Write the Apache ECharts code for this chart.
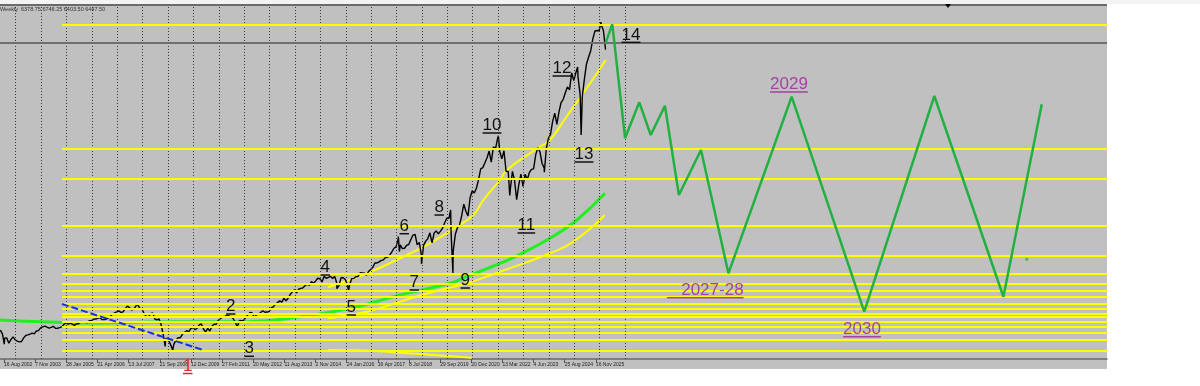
<!DOCTYPE html>
<html><head><meta charset="utf-8">
<script src="https://cdn.jsdelivr.net/npm/echarts@6.0.0/dist/echarts.min.js"></script>
<style>html,body{margin:0;padding:0;background:#fff}#c{width:1200px;height:386px}</style>
</head><body><div id="c"></div>
<script>
// ---------- DATA ----------
// Monthly closes (read from picture / weekly chart), first value = month listed in closeBlocks
const c2002 = [1067, 990, 912, 916, 815, 886, 936, 880];
const c2003 = [856, 841, 848, 917, 964, 975, 990, 1008, 996, 1051, 1058, 1112];
const c2004 = [1131, 1145, 1126, 1107, 1121, 1141, 1102, 1104, 1115, 1130, 1174, 1212];
const c2005 = [1181, 1204, 1181, 1157, 1192, 1191, 1234, 1220, 1229, 1207, 1249, 1248];
const c2006 = [1280, 1281, 1295, 1311, 1270, 1270, 1277, 1304, 1336, 1378, 1401, 1418];
const c2007 = [1438, 1407, 1421, 1482, 1531, 1503, 1455, 1474, 1527, 1549, 1481, 1468];
const c2008 = [1379, 1331, 1323, 1386, 1400, 1280, 1267, 1283, 1166, 969, 896, 903];
const c2009 = [826, 735, 798, 873, 919, 919, 987, 1021, 1057, 1036, 1096, 1115];
const c2010 = [1074, 1104, 1169, 1187, 1089, 1031, 1102, 1049, 1141, 1183, 1181, 1258];
const c2011 = [1286, 1327, 1326, 1364, 1345, 1321, 1292, 1219, 1131, 1253, 1247, 1258];
const c2012 = [1312, 1366, 1408, 1398, 1310, 1362, 1379, 1407, 1441, 1412, 1416, 1426];
const c2013 = [1498, 1515, 1569, 1598, 1631, 1606, 1686, 1633, 1682, 1757, 1806, 1848];
const c2014 = [1783, 1859, 1872, 1884, 1924, 1960, 1931, 2003, 1972, 2018, 2068, 2059];
const c2015 = [1995, 2105, 2068, 2086, 2107, 2063, 2104, 1972, 1920, 2079, 2080, 2044];
const c2016 = [1940, 1932, 2060, 2065, 2097, 2099, 2174, 2171, 2168, 2126, 2199, 2239];
const c2017 = [2279, 2364, 2363, 2384, 2412, 2423, 2470, 2472, 2519, 2575, 2648, 2674];
const c2018 = [2824, 2714, 2641, 2648, 2705, 2718, 2816, 2902, 2914, 2712, 2760, 2507];
const c2019 = [2704, 2784, 2834, 2946, 2752, 2942, 2980, 2926, 2977, 3038, 3141, 3231];
const c2020 = [3226, 2954, 2585, 2912, 3044, 3100, 3271, 3500, 3363, 3270, 3622, 3756];
const c2021 = [3714, 3811, 3973, 4181, 4204, 4298, 4395, 4523, 4308, 4605, 4567, 4766];
const c2022 = [4516, 4374, 4530, 4132, 4132, 3785, 4130, 3955, 3586, 3872, 4080, 3840];
const c2023 = [4077, 3970, 4109, 4169, 4180, 4450, 4589, 4508, 4288, 4194, 4568, 4770];
const c2024 = [4846, 5096, 5254, 5036, 5278, 5460, 5522, 5648, 5762, 5705, 6032, 5882];
const c2025 = [6041, 5955, 5612, 5569, 5912, 6205, 6339, 6460, 6688, 6840, 6849, 6845];
const c2026 = [6960, 6850, 6480];
const closeBlocks = [[2002,5,c2002],[2003,1,c2003],[2004,1,c2004],[2005,1,c2005],[2006,1,c2006],
  [2007,1,c2007],[2008,1,c2008],[2009,1,c2009],[2010,1,c2010],[2011,1,c2011],[2012,1,c2012],
  [2013,1,c2013],[2014,1,c2014],[2015,1,c2015],[2016,1,c2016],[2017,1,c2017],[2018,1,c2018],
  [2019,1,c2019],[2020,1,c2020],[2021,1,c2021],[2022,1,c2022],[2023,1,c2023],[2024,1,c2024],
  [2025,1,c2025],[2026,1,c2026]];
// weekly extremes (spikes) [decimal year, price]
const priceExtremes = [[2002.55,797],[2002.78,780],[2003.19,805],[2007.78,1576],[2008.89,752],
  [2009.18,667],[2010.5,1022],[2011.76,1099],[2015.65,1867],[2016.11,1829],[2018.07,2872],
  [2018.11,2581],[2018.72,2930],[2018.98,2346],[2020.13,3386],[2020.22,2170],[2022.01,4818],
  [2022.46,3667],[2022.78,3577],[2023.82,4117],[2025.13,6144],[2025.27,4835],[2026.05,7010]];
// moving averages / curves [decimal year, price]
const greenMA = [[2002.38,1263],[2004.35,1224],[2006.32,1205],[2008.29,1224],[2010.26,1230],[2012.23,1232],
  [2014.2,1326],[2016.17,1489],[2018.13,1745],[2020.1,1971],[2020.76,2098],[2022.07,2357],[2022.73,2498],
  [2024.04,2840],[2025.1,3193],[2026.21,3708]];
const yellowUpper = [[2015.3,1894],[2016.84,2164],[2018.13,2454],[2019.31,2743],[2020.37,3063],[2021.02,3289],
  [2021.42,3579],[2022.07,3965],[2022.34,4158],[2023.64,4607],[2024.04,4737],[2024.69,5186],[2025.35,5638],[2026.24,6281]];
const yellowLower = [[2015.3,1296],[2016.84,1423],[2018.13,1616],[2019.45,1809],[2020.76,1971],[2022.07,2195],
  [2024.04,2550],[2024.96,2774],[2026.21,3289]];
const yellowBottom = [[2015.3,684],[2016.99,670],[2018.13,632],[2019.45,587],[2020.96,535]];
const blueTrend = [[2004.82,1572],[2010.38,684]];
const projection = [[2026.237,6615],[2026.497,6970],[2027.0,4775],[2027.56,5464],[2028.01,4833],[2028.57,5399],
  [2029.12,3675],[2029.99,4544],[2031.07,2164],[2033.56,5572],[2036.42,1423],[2039.18,5586],[2041.9,1712],[2043.41,5426]];
const projectionDot = [[2042.82,2434]];
// horizontal levels
const levels = [6970, 4563, 3998, 3077, 2498, 2156, 1958, 1836, 1707, 1585, 1481, 1379, 1326, 1230, 1128, 1018, 877, 664];
const levelStart = 2004.82;
const currentPrice = 6622;
// yearly separators
const separatorYears = [2003,2004,2005,2006,2007,2008,2009,2010,2011,2012,2013,2014,2015,2016,2017,2018,2019,2020,2021,2022,2023,2024,2025,2026,2027];
// date axis labels
const dateLabelText = ['16 Aug 2002','7 Nov 2003','28 Jan 2005','21 Apr 2006','13 Jul 2007','21 Sep 2008','12 Dec 2009',
  '27 Feb 2011','20 May 2012','11 Aug 2013','2 Nov 2014','24 Jan 2016','16 Apr 2017','8 Jul 2018','29 Sep 2019',
  '20 Dec 2020','13 Mar 2022','4 Jun 2023','25 Aug 2024','16 Nov 2025'];
const dateLabelPos = [2002.539,2003.768,2004.993,2006.222,2007.447,2008.675,2009.900,2011.129,2012.354,2013.583,
  2014.808,2016.037,2017.262,2018.491,2019.716,2020.944,2022.169,2023.398,2024.623,2025.851];
// annotations: text, anchor (left end of underline) [year, price], colour group
const annText = ['1','2','3','4','5','6','7','8','9','10','11','12','13','14','2029','   2027-28','2030'];
const annPos = [[2009.589,230],[2011.283,1378],[2012.011,562],[2015.005,2131],[2016.029,1359],[2018.116,2928],
  [2018.51,1842],[2019.495,3289],[2020.519,1880],[2021.385,4872],[2022.764,2942],[2024.142,5972],[2025.009,4312],
  [2026.86,6622],[2032.708,5663],[2028.652,1693],[2035.583,940]];
const annGroup = ['red','wave','wave','wave','wave','wave','wave','wave','wave','wave','wave','wave','wave','wave','year','year','year'];

// ---------- BUILD ----------
const X_MIN = 2002.3816, X_MAX = 2045.98, Y_MIN = 510, Y_MAX = 7342.2;
let priceData = [];
closeBlocks.forEach(([yr, m0, arr]) => arr.forEach((v, i) => priceData.push([yr + (m0 + i) / 12 - 0.02, v])));
priceData = priceData.concat(priceExtremes).sort((a, b) => a[0] - b[0]);

const groupColor = {red: '#e8252a', wave: '#111111', year: '#a243a2'};
const FONT = '17px "Liberation Sans", Arial, sans-serif';
const mctx = document.createElement('canvas').getContext('2d');
mctx.font = FONT;

const chart = echarts.init(document.getElementById('c'), null, {renderer: 'canvas'});
const levelLines = levels.map(L => [{coord: [levelStart, L]}, {coord: [X_MAX, L]}]);

chart.setOption({
  animation: false,
  backgroundColor: '#ffffff',
  grid: {left: 0, top: 5, width: 1107, height: 354, show: false},
  graphic: [
    {type: 'rect', z: -100, shape: {x: 0, y: 5, width: 1107, height: 364}, style: {fill: '#c0c0c0'}},
    {type: 'rect', z: -100, shape: {x: 0, y: 0, width: 1200, height: 4}, style: {fill: '#f3f3f3'}},
    {type: 'line', z: 50, shape: {x1: 0, y1: 5, x2: 1107, y2: 5}, style: {stroke: '#6a6a6a', lineWidth: 2}},
    {type: 'polygon', z: 50, shape: {points: [[945, 4], [951, 4], [948, 8]]}, style: {fill: '#000'}},
    {type: 'text', z: 50, x: 0, y: 6, style: {text: 'Weekly  6378.75 6746.25 6403.50 6447.50', font: '5.5px "Liberation Sans", Arial', fill: '#333'}}
  ],
  xAxis: {
    type: 'value', min: X_MIN, max: X_MAX,
    axisLine: {show: true, onZero: false, lineStyle: {color: '#6a6a6a', width: 1.5}},
    axisTick: {show: true, customValues: dateLabelPos, length: 4, lineStyle: {color: '#555'}},
    axisLabel: {
      show: true, customValues: dateLabelPos, fontSize: 5, color: '#222', align: 'left', margin: 3,
      fontFamily: '"Liberation Sans", Arial',
      formatter: (v) => { const i = dateLabelPos.findIndex(p => Math.abs(p - v) < 1e-6); return i >= 0 ? dateLabelText[i] : ''; }
    },
    splitLine: {show: false}
  },
  yAxis: {type: 'value', min: Y_MIN, max: Y_MAX, show: false, splitLine: {show: false}},
  series: [
    {
      name: 'grid', type: 'line', data: [], z: 1, silent: true,
      markLine: {
        silent: true, symbol: 'none', label: {show: false}, animation: false,
        lineStyle: {color: '#3a3a3a', width: 1, type: [1, 2]},
        data: separatorYears.map(y => ({xAxis: y}))
      }
    },
    {
      name: 'levels', type: 'line', data: [], z: 2, silent: true,
      markLine: {
        silent: true, symbol: 'none', label: {show: false}, animation: false,
        lineStyle: {color: '#ffff00', width: 2, type: 'solid'},
        data: levelLines
      }
    },
    {
      name: 'current', type: 'line', data: [], z: 2, silent: true,
      markLine: {
        silent: true, symbol: 'none', label: {show: false}, animation: false,
        lineStyle: {color: '#6e6e6e', width: 2, type: 'solid'},
        data: [[{coord: [X_MIN, currentPrice]}, {coord: [X_MAX, currentPrice]}]]
      }
    },
    {name: 'yellowBottom', type: 'line', data: yellowBottom, smooth: true, showSymbol: false, z: 3, lineStyle: {color: '#ffff00', width: 2}},
    {name: 'greenMA', type: 'line', data: greenMA, smooth: true, showSymbol: false, z: 3, lineStyle: {color: '#22ee22', width: 3}},
    {name: 'yellowLower', type: 'line', data: yellowLower, smooth: true, showSymbol: false, z: 3, lineStyle: {color: '#ffff00', width: 2}},
    {name: 'yellowUpper', type: 'line', data: yellowUpper, smooth: true, showSymbol: false, z: 3, lineStyle: {color: '#ffff00', width: 2}},
    {name: 'price', type: 'line', data: priceData, showSymbol: false, z: 4, lineStyle: {color: '#000', width: 1.4}},
    {name: 'trend', type: 'line', data: blueTrend, showSymbol: false, z: 5, lineStyle: {color: '#1530e8', width: 2, type: [7, 3]}},
    {name: 'projection', type: 'line', data: projection, showSymbol: false, z: 5, lineStyle: {color: '#22b043', width: 2.5}},
    {name: 'dot', type: 'scatter', data: projectionDot, symbolSize: 3, z: 5, itemStyle: {color: '#22b043'}},
    {
      name: 'annotations', type: 'custom', clip: false, z: 10,
      data: annPos,
      renderItem: (params, api) => {
        const i = params.dataIndex;
        const pt = api.coord([api.value(0), api.value(1)]);
        const color = groupColor[annGroup[i]];
        const w = mctx.measureText(annText[i]).width;
        return {
          type: 'group', children: [
            {type: 'text', x: pt[0], y: pt[1] + 1, style: {text: annText[i], font: FONT, fill: color, align: 'left', verticalAlign: 'bottom'}},
            {type: 'rect', shape: {x: pt[0], y: pt[1] - 0.75, width: w, height: 1.5}, style: {fill: color}}
          ]
        };
      }
    }
  ]
});
</script></body></html>
